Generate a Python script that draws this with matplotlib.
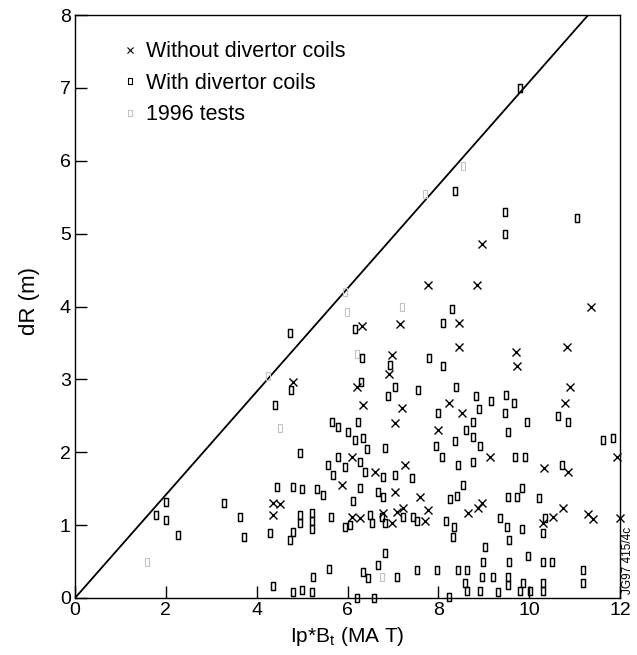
import matplotlib
matplotlib.use("Agg")
import matplotlib.pyplot as plt
from matplotlib.path import Path
from matplotlib.lines import Line2D

plt.rcParams['font.family'] = ['Liberation Sans', 'DejaVu Sans']
plt.rcParams['mathtext.fontset'] = 'custom'
plt.rcParams['mathtext.rm'] = 'Liberation Sans'
plt.rcParams['mathtext.default'] = 'regular'

# Pulses without divertor coils: Ip*Bt (MA T) and dR (m)
no_coil_ipbt = [8.97, 7.78, 8.85, 11.36, 8.46, 8.46, 7.16, 6.32, 6.98, 6.92,
                9.72, 9.74, 10.84, 10.9, 10.79, 6.21, 4.8, 6.34, 7.2, 8.24,
                8.52, 7.05, 8.0, 9.14, 10.33, 10.86, 6.1, 6.61, 7.27, 5.88,
                7.05, 7.6, 7.78, 7.71, 4.36, 4.52, 4.36, 6.1, 6.28, 6.78,
                6.98, 7.09, 7.22, 8.66, 8.88, 8.96, 10.3, 10.53, 10.75, 12.0,
                11.94, 11.3, 11.4]
no_coil_dr = [4.86, 4.29, 4.29, 3.99, 3.77, 3.45, 3.76, 3.73, 3.34, 3.07,
              3.38, 3.19, 3.44, 2.9, 2.67, 2.9, 2.97, 2.65, 2.61, 2.67,
              2.54, 2.4, 2.31, 1.94, 1.79, 1.73, 1.93, 1.73, 1.83, 1.55,
              1.46, 1.38, 1.21, 1.05, 1.31, 1.29, 1.14, 1.11, 1.1, 1.17,
              1.03, 1.18, 1.24, 1.17, 1.24, 1.31, 1.03, 1.11, 1.24, 1.1,
              1.94, 1.15, 1.08]

# Pulses with divertor coils
coil_ipbt = [9.8, 8.37, 9.47, 9.47, 11.05, 8.3, 8.1, 4.74, 6.17, 7.8,
             8.1, 6.32, 6.93, 4.76, 6.3, 7.05, 6.9, 7.56, 8.39, 8.83,
             9.16, 9.49, 9.67, 8.9, 9.47, 8.0, 4.41, 10.64, 10.86, 8.77,
             9.96, 5.66, 5.79, 6.23, 9.54, 8.61, 6.01, 6.17, 6.34, 8.77,
             8.37, 11.63, 11.85, 7.95, 8.92, 6.43, 6.83, 4.96, 8.08, 5.79,
             9.69, 9.91, 8.77, 6.28, 5.57, 5.95, 8.44, 10.73, 5.68, 6.39,
             6.78, 7.05, 7.42, 8.55, 4.45, 4.8, 5.0, 5.33, 5.46, 6.28,
             6.67, 6.78, 6.12, 8.26, 8.42, 9.54, 9.74, 9.85, 10.22, 4.96,
             4.96, 5.22, 5.22, 5.22, 5.64, 5.95, 6.06, 6.5, 6.54, 6.76,
             6.83, 7.22, 7.44, 7.53, 8.17, 4.8, 4.74, 8.35, 8.33, 9.36,
             9.51, 9.85, 9.56, 10.35, 10.31, 4.3, 2.0, 1.78, 2.0, 2.27,
             3.28, 3.63, 3.72, 6.83, 6.67, 9.03, 8.99, 9.56, 9.98, 10.31,
             10.5, 11.19, 11.19, 5.24, 5.6, 6.34, 6.45, 7.1, 7.53, 7.97,
             8.44, 8.63, 8.96, 9.2, 9.54, 9.54, 8.59, 8.63, 8.92, 9.32,
             9.8, 9.87, 10.02, 10.31, 10.31, 4.36, 4.8, 5.0, 5.22, 6.21,
             6.58, 8.24]
coil_dr = [7.0, 5.59, 5.29, 4.99, 5.22, 3.97, 3.77, 3.64, 3.69, 3.3,
           3.19, 3.3, 3.2, 2.85, 2.96, 2.89, 2.77, 2.86, 2.89, 2.77,
           2.7, 2.78, 2.68, 2.59, 2.54, 2.54, 2.65, 2.5, 2.41, 2.42,
           2.42, 2.42, 2.35, 2.42, 2.28, 2.31, 2.28, 2.17, 2.2, 2.21,
           2.15, 2.17, 2.2, 2.08, 2.08, 2.04, 2.06, 1.99, 1.94, 1.93,
           1.93, 1.94, 1.87, 1.86, 1.82, 1.8, 1.82, 1.82, 1.69, 1.73,
           1.66, 1.69, 1.65, 1.55, 1.53, 1.53, 1.49, 1.49, 1.42, 1.51,
           1.46, 1.39, 1.33, 1.36, 1.4, 1.39, 1.39, 1.51, 1.37, 1.14,
           1.03, 1.17, 1.05, 0.94, 1.11, 0.98, 1.0, 1.14, 1.03, 1.11,
           1.03, 1.11, 1.11, 1.05, 1.06, 0.91, 0.8, 0.98, 0.84, 1.1,
           0.98, 0.94, 0.8, 1.1, 0.89, 0.89, 1.32, 1.14, 1.07, 0.87,
           1.31, 1.11, 0.84, 0.62, 0.45, 0.7, 0.49, 0.49, 0.57, 0.49,
           0.5, 0.39, 0.21, 0.29, 0.4, 0.36, 0.28, 0.29, 0.39, 0.39,
           0.39, 0.39, 0.29, 0.29, 0.29, 0.18, 0.21, 0.1, 0.1, 0.08,
           0.1, 0.21, 0.1, 0.21, 0.09, 0.16, 0.08, 0.11, 0.08, 0.0,
           0.0, 0.02]

# 1996 tests
tests_ipbt = [1.59, 4.25, 4.52, 5.95, 5.99, 6.21, 7.2, 7.71, 8.55, 6.76]
tests_dr = [0.5, 3.04, 2.33, 4.2, 3.92, 3.35, 4.0, 5.54, 5.93, 0.29]

# Limiting line
limit_ipbt = [0.0, 11.3]
limit_dr = [0.0, 8.0]

x_ticks = [0, 2, 4, 6, 8, 10, 12]
y_ticks = [0, 1, 2, 3, 4, 5, 6, 7, 8]

# Tall open rectangle marker
rect = Path([(-0.55, -1), (0.55, -1), (0.55, 1), (-0.55, 1), (-0.55, -1)],
            [Path.MOVETO, Path.LINETO, Path.LINETO, Path.LINETO, Path.CLOSEPOLY])

fig = plt.figure(figsize=(6.37, 6.55), dpi=100)
ax = fig.add_axes([75 / 637, 1 - 598 / 655, 545 / 637, 583 / 655])

ax.plot(limit_ipbt, limit_dr, color='black', lw=1.3, zorder=2)
ax.plot(tests_ipbt, tests_dr, ls='none', marker=rect, ms=5.5, mfc='none',
        mec='#c4c4c4', mew=0.8, zorder=3)
ax.plot(coil_ipbt, coil_dr, ls='none', marker=rect, ms=6.4, mfc='none',
        mec='black', mew=1.05, clip_on=False, zorder=4)
ax.plot(no_coil_ipbt, no_coil_dr, ls='none', marker='x', ms=5.4, mec='black',
        mew=1.0, clip_on=False, zorder=5)

ax.set_xlim(0, 12)
ax.set_ylim(0, 8)
ax.set_xticks(x_ticks)
ax.set_yticks(y_ticks)
ax.tick_params(direction='in', length=8.5, width=1, labelsize=14, pad=3,
               top=False, right=False)
for s in ax.spines.values():
    s.set_linewidth(1)

ax.set_xlabel('Ip*B$_t$ (MA T)', fontsize=15, labelpad=4)
ax.set_ylabel('dR (m)', fontsize=16)
ax.yaxis.set_label_coords(-0.064, 0.51)

handles = [
    Line2D([], [], ls='none', marker='x', ms=4, mec='black', mew=0.8),
    Line2D([], [], ls='none', marker=rect, ms=5, mfc='none', mec='black', mew=0.8),
    Line2D([], [], ls='none', marker=rect, ms=5, mfc='none', mec='#c4c4c4', mew=0.8),
]
ax.legend(handles, ['Without divertor coils', 'With divertor coils', '1996 tests'],
          loc='upper left', bbox_to_anchor=(0.089, 0.955), frameon=False,
          fontsize=15.5, handlelength=0.6, handletextpad=0.45,
          labelspacing=0.49, borderpad=0, borderaxespad=0)

fig.text(628 / 637, 1 - 560 / 655, 'JG97 415/4c', rotation=90,
         ha='center', va='center', fontsize=8.5)

fig.savefig('out.png', dpi=100)
